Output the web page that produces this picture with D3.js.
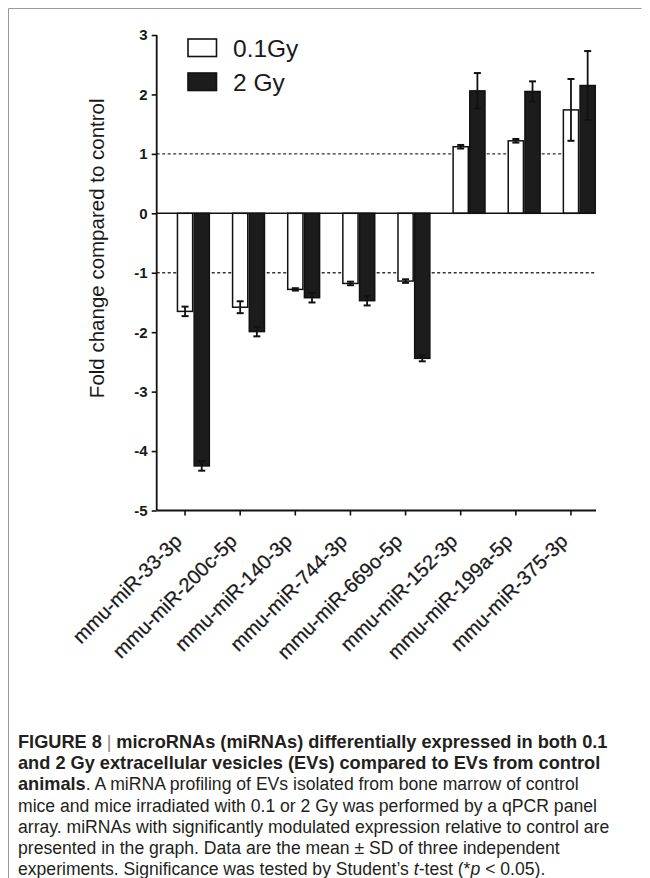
<!DOCTYPE html>
<html>
<head>
<meta charset="utf-8">
<script src="https://cdn.jsdelivr.net/npm/d3@7"></script>
<style>
  html, body { margin: 0; padding: 0; background: #fff; }
  svg { display: block; }
</style>
</head>
<body>
<svg id="chart" width="650" height="878"></svg>
<script>
// ---- data ----
const categories = ["mmu-miR-33-3p", "mmu-miR-200c-5p", "mmu-miR-140-3p", "mmu-miR-744-3p",
                    "mmu-miR-669o-5p", "mmu-miR-152-3p", "mmu-miR-199a-5p", "mmu-miR-375-3p"];
const seriesNames = ["0.1Gy", "2 Gy"];
const values01 = [-1.65, -1.58, -1.28, -1.18, -1.14, 1.12, 1.22, 1.74];
const sd01     = [0.08, 0.10, 0.02, 0.03, 0.03, 0.03, 0.03, 0.52];
const values2  = [-4.25, -1.99, -1.42, -1.47, -2.44, 2.06, 2.05, 2.15];
const sd2      = [0.08, 0.08, 0.08, 0.08, 0.05, 0.30, 0.17, 0.58];
const yTicks   = [3, 2, 1, 0, -1, -2, -3, -4, -5];
const yTickLabels = ["3", "2", "1", "0", "-1", "-2", "-3", "-4", "-5"];
const refLines = [1, -1];
const yTitle = "Fold change compared to control";

const captionLines = [
  [{t: "FIGURE 8", b: true}, {t: " | ", b: false, c: "#888"}, {t: "microRNAs (miRNAs) differentially expressed in both 0.1", b: true}],
  [{t: "and 2 Gy extracellular vesicles (EVs) compared to EVs from control", b: true}],
  [{t: "animals", b: true}, {t: ". A miRNA profiling of EVs isolated from bone marrow of control"}],
  [{t: "mice and mice irradiated with 0.1 or 2 Gy was performed by a qPCR panel"}],
  [{t: "array. miRNAs with significantly modulated expression relative to control are"}],
  [{t: "presented in the graph. Data are the mean \u00B1 SD of three independent"}],
  [{t: "experiments. Significance was tested by Student\u2019s "}, {t: "t", i: true}, {t: "-test (*"}, {t: "p", i: true}, {t: " < 0.05)."}]
];

const data = categories.map((c, i) => ({
  cat: c,
  bars: [
    {s: seriesNames[0], v: values01[i], sd: sd01[i]},
    {s: seriesNames[1], v: values2[i], sd: sd2[i]}
  ]
}));

// ---- layout ----
const svg = d3.select("#chart");
const axisLeftX = 156.7, axisRightX = 596;
const font = "'Liberation Sans', Arial, Helvetica, sans-serif";
const ink = "#1a1a1a";

// frame
svg.append("path")
  .attr("d", "M8.5,878 L8.5,8.5 L641.5,8.5")
  .attr("fill", "none").attr("stroke", "#9a9a9a").attr("stroke-width", 1);

const y = d3.scaleLinear().domain([-5, 3]).range([510.5, 35]);
const x = d3.scaleBand().domain(categories).range([176.7, 596]).paddingInner(0.3945).paddingOuter(0);
const xs = d3.scaleBand().domain(seriesNames).range([0, x.bandwidth()]);
// tick at the centre of the first (white) bar
const xTick = x.copy().range([176.7 - x.bandwidth() / 4, 596 - x.bandwidth() / 4]);

const g = svg.append("g");

// reference dotted lines
g.selectAll("line.ref").data(refLines).enter().append("line")
  .attr("class", "ref")
  .attr("x1", axisLeftX).attr("x2", axisRightX)
  .attr("y1", d => y(d)).attr("y2", d => y(d))
  .attr("stroke", "#333").attr("stroke-width", 1.4).attr("stroke-dasharray", "3,2.5");

// bars
const groups = g.selectAll("g.grp").data(data).enter().append("g")
  .attr("class", "grp")
  .attr("transform", d => `translate(${x(d.cat)},0)`);

groups.selectAll("rect").data(d => d.bars).enter().append("rect")
  .attr("x", d => xs(d.s) + 0.75)
  .attr("width", xs.bandwidth() - 1.5)
  .attr("y", d => Math.min(y(d.v), y(0)))
  .attr("height", d => Math.abs(y(d.v) - y(0)))
  .attr("fill", (d, i) => i === 0 ? "#fff" : "#1c1c1c")
  .attr("stroke", "#111").attr("stroke-width", 1.5);

// error bars
const eb = groups.selectAll("g.err").data(d => d.bars).enter().append("g").attr("class", "err");
eb.append("line")
  .attr("x1", d => xs(d.s) + xs.bandwidth() / 2).attr("x2", d => xs(d.s) + xs.bandwidth() / 2)
  .attr("y1", d => y(d.v - d.sd)).attr("y2", d => y(d.v + d.sd))
  .attr("stroke", "#111").attr("stroke-width", 1.8);
eb.selectAll("line.cap").data(d => [{s: d.s, v: d.v - d.sd}, {s: d.s, v: d.v + d.sd}]).enter().append("line")
  .attr("class", "cap")
  .attr("x1", d => xs(d.s) + xs.bandwidth() / 2 - 3.5).attr("x2", d => xs(d.s) + xs.bandwidth() / 2 + 3.5)
  .attr("y1", d => y(d.v)).attr("y2", d => y(d.v))
  .attr("stroke", "#111").attr("stroke-width", 2);

// zero baseline
g.append("line")
  .attr("x1", axisLeftX).attr("x2", axisRightX)
  .attr("y1", y(0)).attr("y2", y(0))
  .attr("stroke", "#111").attr("stroke-width", 1.6);

// y axis
const yAxis = g.append("g")
  .attr("transform", `translate(${axisLeftX},0)`)
  .call(d3.axisLeft(y).tickValues(yTicks).tickFormat((d, i) => yTickLabels[i]).tickSize(5).tickPadding(4));
yAxis.select(".domain").attr("stroke", "#111").attr("stroke-width", 1.8).attr("d", `M0,${y(3)}V${y(-5)}`);
yAxis.selectAll(".tick line").attr("stroke", "#111").attr("stroke-width", 1.6);
yAxis.selectAll(".tick text")
  .attr("font-family", font).attr("font-size", 15).attr("font-weight", "bold").attr("fill", ink);

// x axis
const xAxis = g.append("g")
  .attr("transform", `translate(0,${y(-5)})`)
  .call(d3.axisBottom(xTick).tickSize(5).tickPadding(6));
xAxis.select(".domain").attr("stroke", "#111").attr("stroke-width", 1.8).attr("d", `M${axisLeftX},0H${axisRightX}`);
xAxis.selectAll(".tick line").attr("stroke", "#111").attr("stroke-width", 1.6);
xAxis.selectAll(".tick text")
  .attr("font-family", font).attr("font-size", 20).attr("fill", ink)
  .attr("stroke", ink).attr("stroke-width", 0.25)
  .attr("text-anchor", "end")
  .attr("dy", null)
  .attr("transform", "translate(-2,32) rotate(-45)")
  .attr("y", 0).attr("x", 0);

// y title
svg.append("text")
  .attr("transform", `translate(103.5,248.3) rotate(-90)`)
  .attr("text-anchor", "middle")
  .attr("font-family", font).attr("font-size", 20.5).attr("fill", ink)
  .text(yTitle);

// legend
const leg = svg.append("g");
seriesNames.forEach((s, i) => {
  const ly = 39 + i * 34;
  leg.append("rect")
    .attr("x", 188).attr("y", ly).attr("width", 28.5).attr("height", 17.5)
    .attr("fill", i === 0 ? "#fff" : "#1c1c1c").attr("stroke", "#111").attr("stroke-width", 1.6);
  leg.append("text")
    .attr("x", 233).attr("y", ly + 18)
    .attr("font-family", font).attr("font-size", 24.5).attr("fill", ink)
    .text(s);
});

// caption
const cap = svg.append("g");
captionLines.forEach((line, i) => {
  const t = cap.append("text")
    .attr("x", 18).attr("y", 748 + i * 21.2)
    .attr("font-family", font).attr("font-size", 17.6).attr("fill", "#231f20");
  line.forEach(seg => {
    t.append("tspan")
      .attr("font-weight", seg.b ? "bold" : "normal")
      .attr("font-size", seg.b ? 18.2 : null)
      .attr("font-style", seg.i ? "italic" : "normal")
      .attr("fill", seg.c || null)
      .text(seg.t);
  });
});
</script>
</body>
</html>
